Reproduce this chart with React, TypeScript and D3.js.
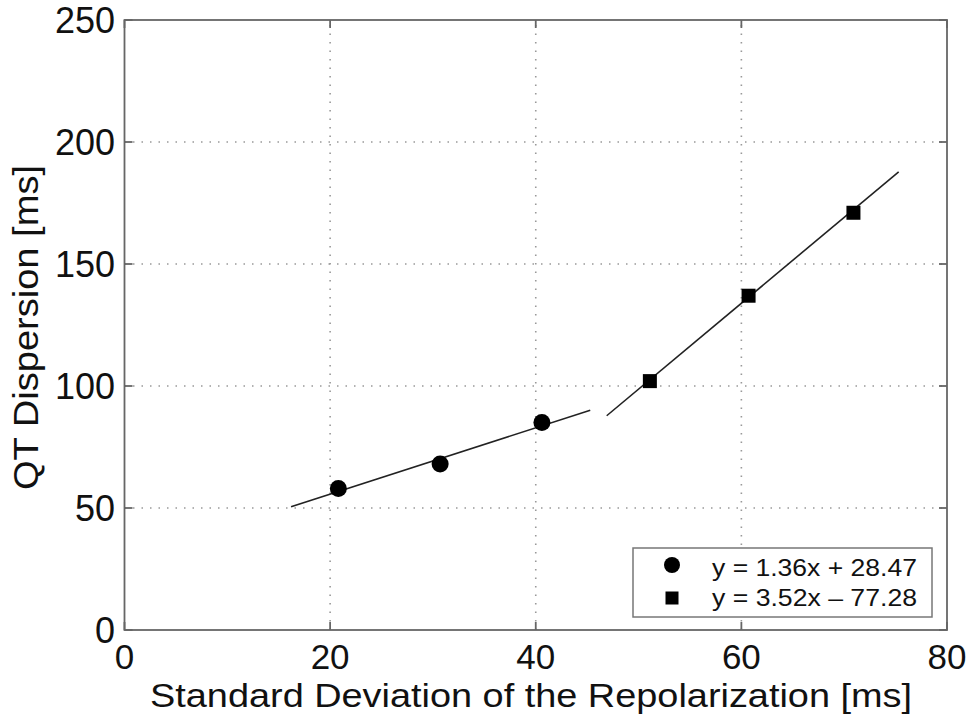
import React from "react";
import * as d3 from "d3";

const circleX = [20.8, 30.7, 40.6];
const circleY = [58, 68, 85];
const squareX = [51.1, 60.7, 70.9];
const squareY = [102, 137, 171];
const fit1 = { slope: 1.36, intercept: 28.47, x0: 16.2, x1: 45.3 };
const fit2 = { slope: 3.52, intercept: -77.28, x0: 46.9, x1: 75.3 };
const xTicks = [0, 20, 40, 60, 80];
const yTicks = [0, 50, 100, 150, 200, 250];
const legendLabels = ["y = 1.36x + 28.47", "y = 3.52x \u2013 77.28"];
const xTitle = "Standard Deviation of the Repolarization [ms]";
const yTitle = "QT Dispersion [ms]";

const W = 976, H = 718;
const L = 124.5, R = 947, T = 20, B = 630;
const FONT = "'Liberation Sans', Arial, Helvetica, sans-serif";

export default function App() {
  const x = d3.scaleLinear().domain([0, 80]).range([L, R]);
  const y = d3.scaleLinear().domain([0, 250]).range([B, T]);
  const fitPath = (f: typeof fit1) =>
    d3.line<[number, number]>().x((d) => x(d[0])).y((d) => y(d[1]))([
      [f.x0, f.slope * f.x0 + f.intercept],
      [f.x1, f.slope * f.x1 + f.intercept],
    ]) as string;
  const axisColor = "#666";
  const gridColor = "#999";
  const tickLen = 8;
  return (
    <svg width={W} height={H} style={{ position: "absolute", left: 0, top: 0, background: "#fff" }} fontFamily={FONT}>
      <rect x={0} y={0} width={W} height={H} fill="#fff" />
      {xTicks.filter((t) => t > 0 && t < 80).map((t) => (
        <line key={"gx" + t} x1={x(t)} x2={x(t)} y1={B} y2={T} stroke={gridColor} strokeWidth={1.6} strokeDasharray="1.5 7" />
      ))}
      {yTicks.filter((t) => t > 0 && t < 250).map((t) => (
        <line key={"gy" + t} x1={L} x2={R} y1={y(t)} y2={y(t)} stroke={gridColor} strokeWidth={1.6} strokeDasharray="1.5 7" />
      ))}
      <path d={fitPath(fit1)} stroke="#222" strokeWidth={1.6} fill="none" />
      <path d={fitPath(fit2)} stroke="#222" strokeWidth={1.6} fill="none" />
      {circleX.map((cx, i) => (
        <circle key={"c" + i} cx={x(cx)} cy={y(circleY[i])} r={8.5} fill="#000" />
      ))}
      {squareX.map((sx, i) => (
        <rect key={"s" + i} x={x(sx) - 7} y={y(squareY[i]) - 7} width={14} height={14} fill="#000" />
      ))}
      <rect x={L} y={T} width={R - L} height={B - T} fill="none" stroke={axisColor} strokeWidth={1.8} />
      {xTicks.map((t) => (
        <g key={"tx" + t}>
          <line x1={x(t)} x2={x(t)} y1={B} y2={B - tickLen} stroke={axisColor} strokeWidth={1.8} />
          <line x1={x(t)} x2={x(t)} y1={T} y2={T + tickLen} stroke={axisColor} strokeWidth={1.8} />
          <text x={x(t)} y={669} textAnchor="middle" fontSize={35} fill="#111">{t}</text>
        </g>
      ))}
      {yTicks.map((t) => (
        <g key={"ty" + t}>
          <line x1={L} x2={L + tickLen} y1={y(t)} y2={y(t)} stroke={axisColor} strokeWidth={1.8} />
          <line x1={R} x2={R - tickLen} y1={y(t)} y2={y(t)} stroke={axisColor} strokeWidth={1.8} />
          <text x={115} y={y(t)} dy="0.36em" textAnchor="end" fontSize={36} fill="#111">{t}</text>
        </g>
      ))}
      <text x={150} y={707} fontSize={34} fill="#111" textLength={762} lengthAdjust="spacingAndGlyphs">{xTitle}</text>
      <text transform={`translate(38, 490) rotate(-90)`} fontSize={35} fill="#111" textLength={325} lengthAdjust="spacingAndGlyphs">{yTitle}</text>
      <rect x={633} y={548} width={299} height={69} fill="#fff" stroke="#777" strokeWidth={1.5} />
      <circle cx={672} cy={565} r={8} fill="#000" />
      <rect x={665.5} y={591.5} width={13} height={13} fill="#000" />
      <text x={712} y={576} fontSize={24} fill="#111" textLength={205} lengthAdjust="spacingAndGlyphs">{legendLabels[0]}</text>
      <text x={712} y={606} fontSize={24} fill="#111" textLength={205} lengthAdjust="spacingAndGlyphs">{legendLabels[1]}</text>
    </svg>
  );
}
